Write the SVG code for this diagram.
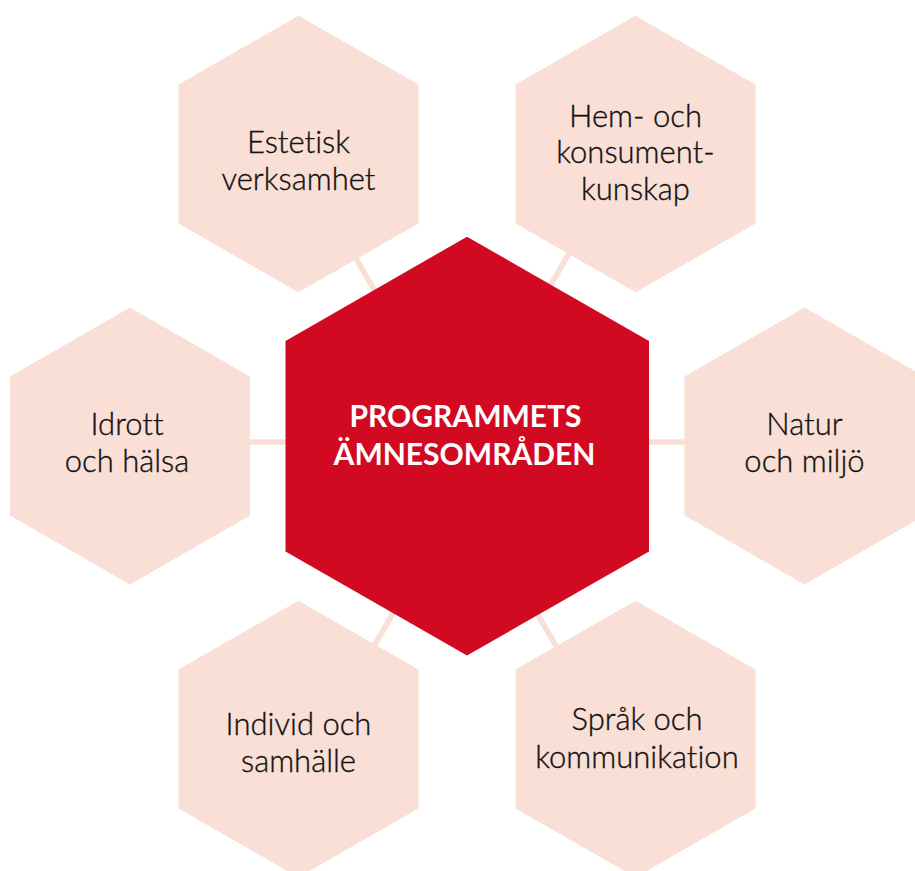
<svg xmlns="http://www.w3.org/2000/svg" width="915" height="871" viewBox="0 0 915 871">
<style>
.hex{fill:#F9DFD6}
.core{fill:#D10A22}
.lbl{font-family:Lato,"Open Sans","DejaVu Sans",sans-serif;font-size:31px;font-weight:300;fill:#111111;text-anchor:middle;font-variant-ligatures:none;stroke:#111111;stroke-width:0.35}
.core-lbl{font-family:Lato,"Open Sans","DejaVu Sans",sans-serif;font-size:30px;font-weight:bold;fill:#ffffff;text-anchor:middle;font-variant-ligatures:none}
.conn line{stroke:#F9DFD6;stroke-width:5.5}
</style>
<rect width="915" height="871" fill="#ffffff"/>
<g id="connectors" class="conn">
<line x1="240" y1="442" x2="700" y2="442"/>
<line x1="347" y1="243" x2="394" y2="324"/>
<line x1="575" y1="243" x2="528" y2="324"/>
<line x1="410" y1="584" x2="360" y2="670"/>
<line x1="520" y1="584" x2="570" y2="670"/>
</g>
<g id="node-estetisk">
<polygon class="hex" points="298.5,15.7 418.5,84.5 418.5,223.5 298.5,292.3 178.5,223.5 178.5,84.5"/>
<text class="lbl" x="298.5" y="153.3">Estetisk</text>
<text class="lbl" x="298.5" y="190">verksamhet</text>
</g>
<g id="node-hem">
<polygon class="hex" points="635.5,15.7 755.5,84.5 755.5,223.5 635.5,292.3 515.5,223.5 515.5,84.5"/>
<text class="lbl" x="635.5" y="126.7">Hem- och</text>
<text class="lbl" x="635.5" y="163.3">konsument-</text>
<text class="lbl" x="635.5" y="200">kunskap</text>
</g>
<g id="node-idrott">
<polygon class="hex" points="130,307.5 250,376.5 250,515.5 130,584.5 10,515.5 10,376.5"/>
<text class="lbl" x="127" y="435">Idrott</text>
<text class="lbl" x="127" y="471.7">och hälsa</text>
</g>
<g id="node-natur">
<polygon class="hex" points="804.5,307.5 924.5,376.5 924.5,515.5 804.5,584.5 684.5,515.5 684.5,376.5"/>
<text class="lbl" x="804.5" y="435">Natur</text>
<text class="lbl" x="804.5" y="471.7">och miljö</text>
</g>
<g id="node-individ">
<polygon class="hex" points="298.5,600.7 418.5,669.5 418.5,808.5 298.5,877.3 178.5,808.5 178.5,669.5"/>
<text class="lbl" x="298.5" y="735">Individ och</text>
<text class="lbl" x="298.5" y="772.3">samhälle</text>
</g>
<g id="node-sprak">
<polygon class="hex" points="635.5,600.7 755.5,669.5 755.5,808.5 635.5,877.3 515.5,808.5 515.5,669.5"/>
<text class="lbl" x="637" y="730">Språk och</text>
<text class="lbl" x="637" y="768.3">kommunikation</text>
</g>
<g id="node-center">
<polygon class="core" points="467,236.7 649,341 649,551.5 467,655.5 285.5,551.5 285.5,341"/>
<text class="core-lbl" x="465.5" y="426.7">PROGRAMMETS</text>
<text class="core-lbl" x="464.5" y="465">ÄMNESOMRÅDEN</text>
</g>
</svg>
